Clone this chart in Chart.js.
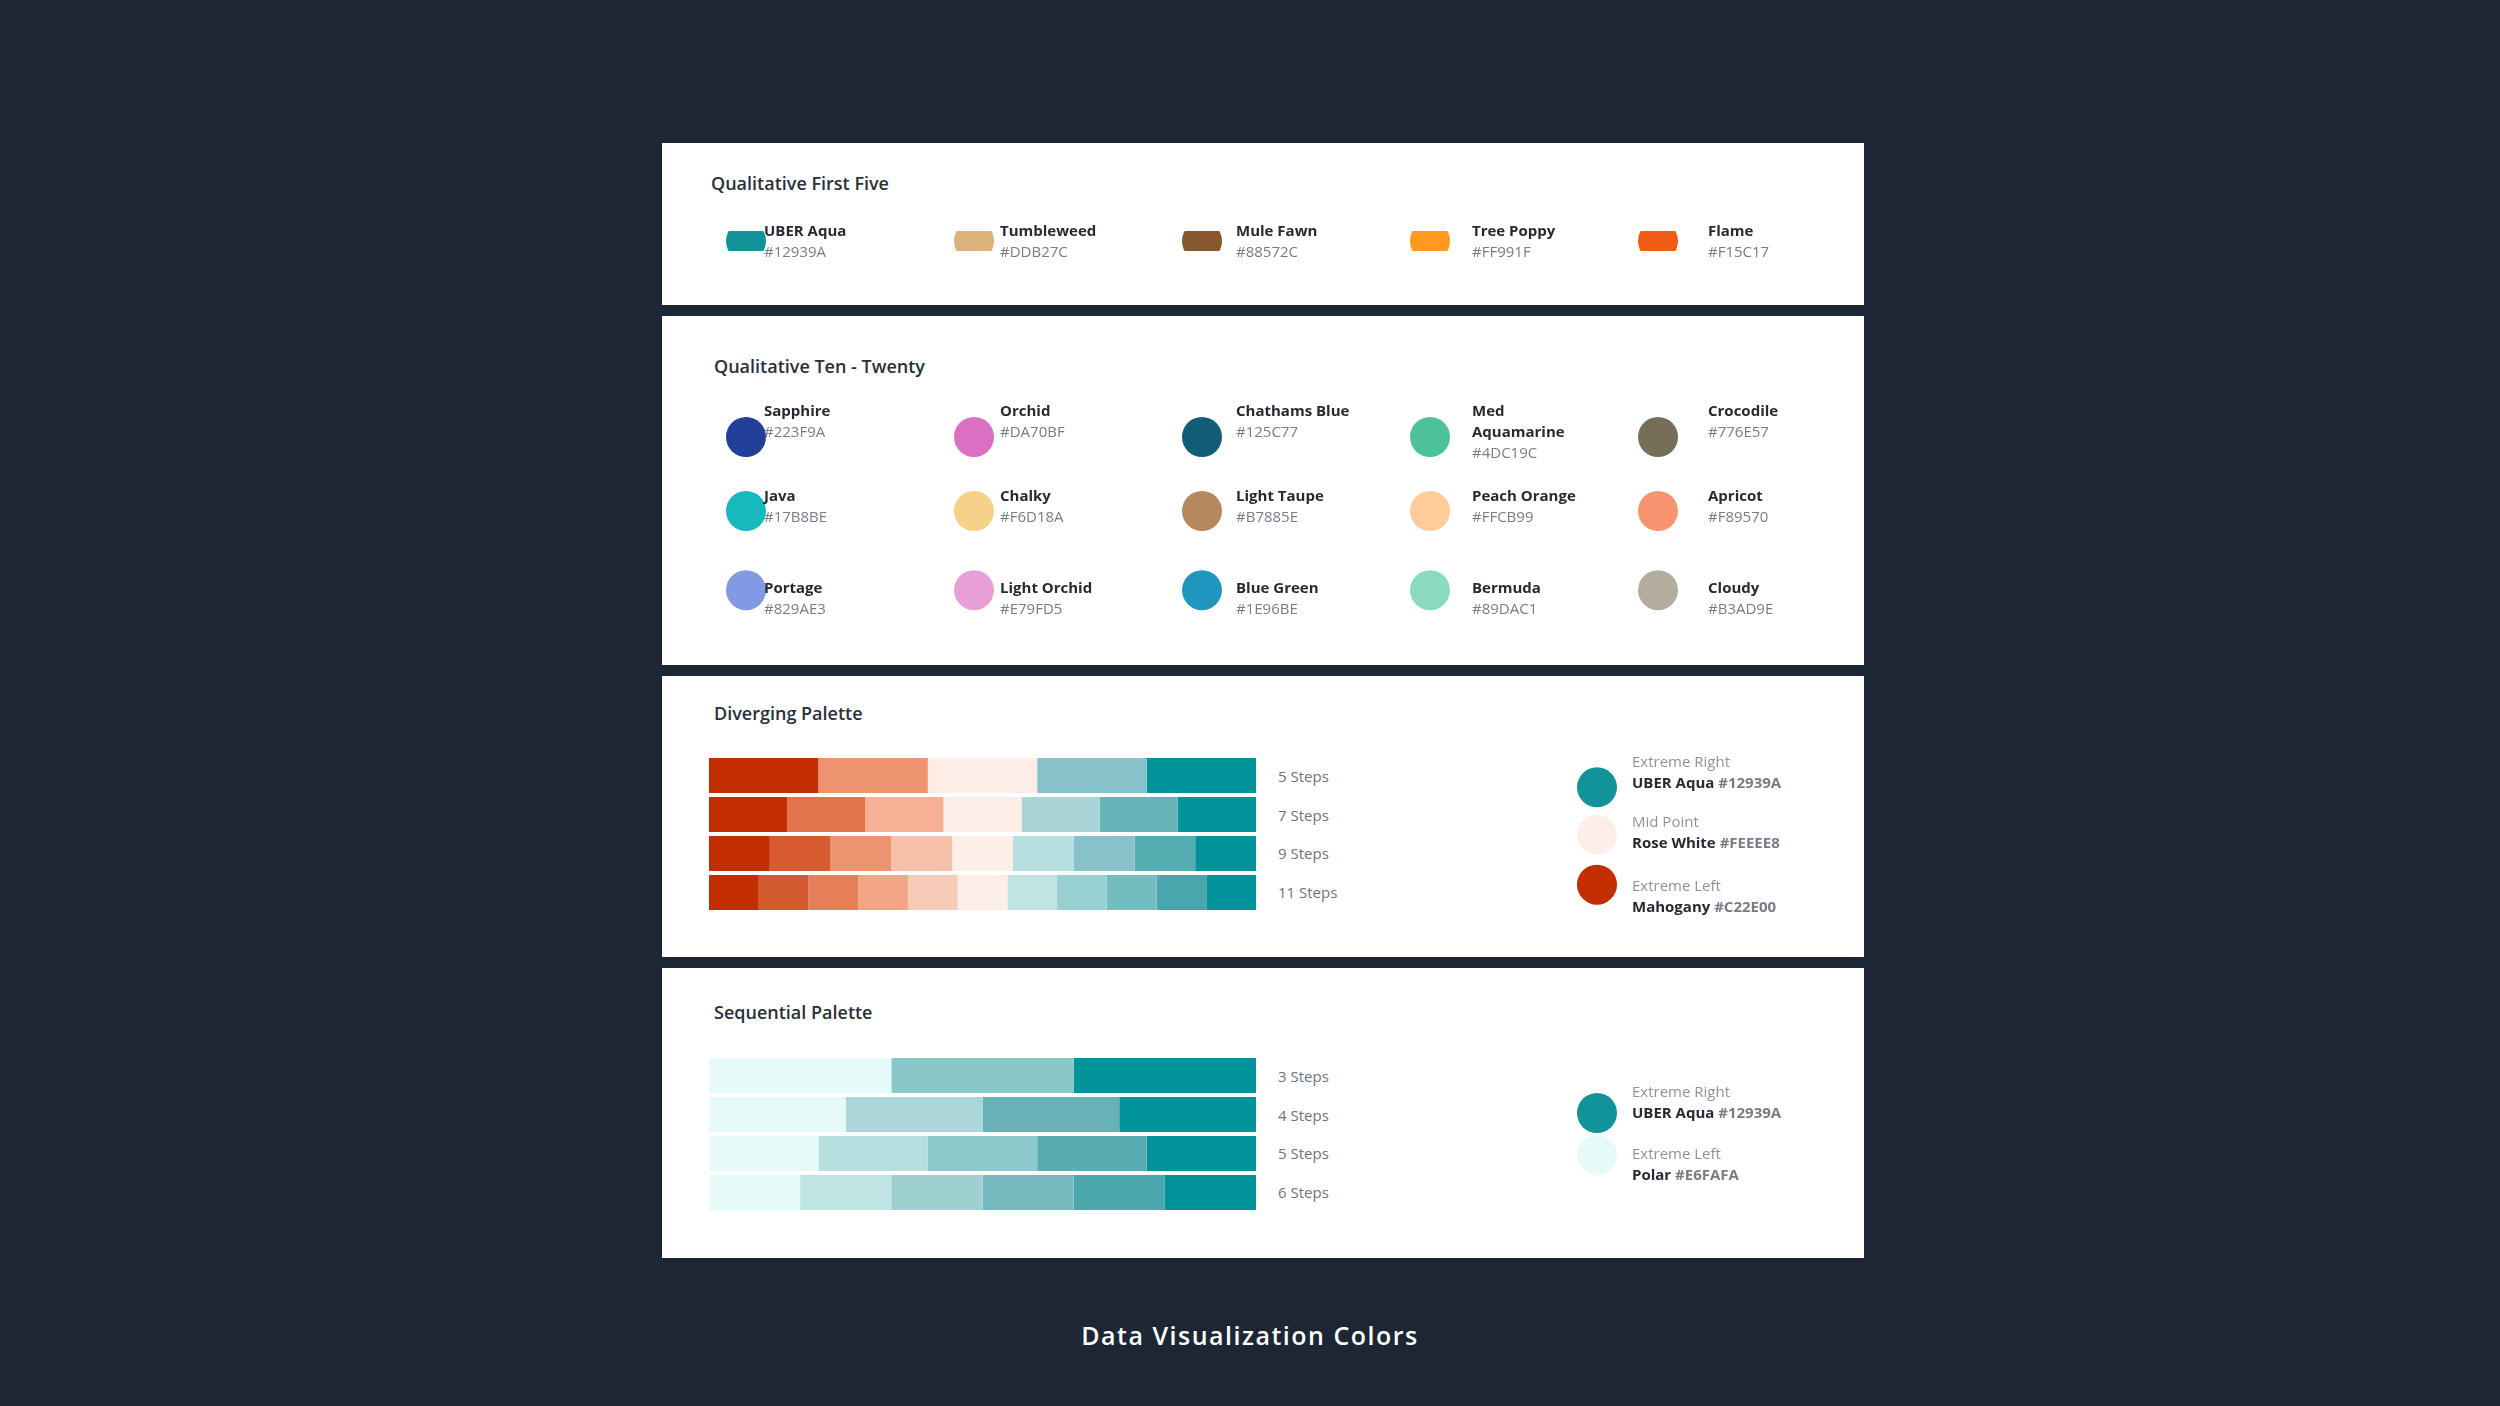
<!DOCTYPE html>
<html><head><meta charset="utf-8">
<script src="https://cdn.jsdelivr.net/npm/chart.js@4/dist/chart.umd.min.js"></script>
<style>
  body { margin:0; width:2500px; height:1406px; background:#1c2634; font-family:"Open Sans", Lato, sans-serif; position:relative; overflow:hidden; }
  .card { position:absolute; left:662px; width:1202px; background:#fff; }
  .abs { position:absolute; }
  canvas.abs { z-index:1; }
  .t { position:absolute; z-index:2; }
  .title { font-size:18px; font-weight:600; color:#2a2f3a; }
  .nm { font-size:15px; font-weight:700; color:#262a33; line-height:21px; }
  .hx { font-size:15px; color:#777c86; line-height:21px; }
  .sm { font-size:15px; color:#8e939b; line-height:21px; }
  .steps { font-size:15px; color:#6e737c; }
  #main { position:absolute; left:0; width:2500px; top:1318px; text-align:center; color:#fff; font-size:25px; font-weight:600; letter-spacing:1.5px; }
</style></head>
<body>
<div class="card" style="top:143px;height:162px"></div>
<div class="card" style="top:316px;height:349px"></div>
<div class="card" style="top:676px;height:281px"></div>
<div class="card" style="top:968px;height:290px"></div>
<div id="main">Data Visualization Colors</div>

<canvas id="c1" class="abs"></canvas>
<canvas id="c2" class="abs"></canvas>
<canvas id="c3" class="abs"></canvas>
<canvas id="c4" class="abs"></canvas>
<canvas id="lg3" class="abs"></canvas>
<canvas id="lg4" class="abs"></canvas>

<script>
// ---- data ------------------------------------------------------------------
const firstNames = ["UBER Aqua", "Tumbleweed", "Mule Fawn", "Tree Poppy", "Flame"];
const firstHex = ["#12939A", "#DDB27C", "#88572C", "#FF991F", "#F15C17"];

const tenNames = ["Sapphire", "Orchid", "Chathams Blue", "Med Aquamarine", "Crocodile",
  "Java", "Chalky", "Light Taupe", "Peach Orange", "Apricot",
  "Portage", "Light Orchid", "Blue Green", "Bermuda", "Cloudy"];
const tenHex = ["#223F9A", "#DA70BF", "#125C77", "#4DC19C", "#776E57",
  "#17B8BE", "#F6D18A", "#B7885E", "#FFCB99", "#F89570",
  "#829AE3", "#E79FD5", "#1E96BE", "#89DAC1", "#B3AD9E"];
const tenRowY = [0, 1, 2.07];

const divLabels = ["5 Steps", "7 Steps", "9 Steps", "11 Steps"];
const divColors = [
  ["#C22E00", "#EC9370", "#FDEDE6", "#88C2C8", "#00939A"],
  ["#C22E00", "#E2734A", "#F6B096", "#FDEEE8", "#A8D6D8", "#66B4B8", "#00939A"],
  ["#C22E00", "#D85A30", "#EC9370", "#F7C0AB", "#FDEEE8", "#B8E0E1", "#88C2C8", "#55ACB1", "#00939A"],
  ["#C22E00", "#D35A2E", "#E67E5A", "#F2A586", "#F8CAB8", "#FDEEE8", "#C0E3E4", "#98CFD1", "#74BCC0", "#4AA6AD", "#00939A"],
];
const seqLabels = ["3 Steps", "4 Steps", "5 Steps", "6 Steps"];
const seqColors = [
  ["#E6FAFA", "#8AC7C8", "#00939A"],
  ["#E6FAFA", "#AAD7D9", "#68B1B6", "#00939A"],
  ["#E6FAFA", "#B8DFE0", "#8CC9CA", "#57ADB2", "#00939A"],
  ["#E6FAFA", "#C0E3E4", "#9ECFD1", "#77BABE", "#4DA8AE", "#00939A"],
];
const divLegend = [["Extreme Right", "UBER Aqua", "#12939A"], ["Mid Point", "Rose White", "#FEEEE8"], ["Extreme Left", "Mahogany", "#C22E00"]];
const divLegendY = [0, 0.97, 2];
const seqLegend = [["Extreme Right", "UBER Aqua", "#12939A"], ["Extreme Left", "Polar", "#E6FAFA"]];

// ---- helpers ---------------------------------------------------------------
function place(id, l, t, w, h) {
  const c = document.getElementById(id);
  Object.assign(c.style, { left: l + "px", top: t + "px", width: w + "px", height: h + "px" });
  return c;
}
function text(cls, l, t, html) {
  const d = document.createElement("div");
  d.className = "t " + cls; d.style.left = l + "px"; d.style.top = t + "px"; d.innerHTML = html;
  document.body.appendChild(d);
}
const hidden = { display: false };
function dotChart(id, pts, colors, xr, yr) {
  new Chart(document.getElementById(id), {
    type: "scatter",
    data: { datasets: [{ data: pts, pointRadius: 20, pointHoverRadius: 20, borderWidth: 0,
      backgroundColor: colors, pointBorderColor: colors }] },
    options: { responsive: false, animation: false, events: [],
      layout: { padding: 0 },
      plugins: { legend: hidden, tooltip: { enabled: false } },
      scales: { x: { display: false, min: xr[0], max: xr[1] }, y: { display: false, reverse: true, min: yr[0], max: yr[1] } } },
  });
}
function stackChart(id, labels, colors) {
  const n = Math.max(...colors.map(r => r.length));
  const datasets = [];
  for (let i = 0; i < n; i++) {
    datasets.push({
      data: colors.map(r => i < r.length ? 1 / r.length : 0),
      backgroundColor: colors.map(r => r[i] || "#fff"),
      borderWidth: 0, barPercentage: 0.9, categoryPercentage: 1,
    });
  }
  new Chart(document.getElementById(id), {
    type: "bar",
    data: { labels, datasets },
    options: { indexAxis: "y", responsive: false, animation: false, events: [],
      layout: { padding: 0 },
      plugins: { legend: hidden, tooltip: { enabled: false } },
      scales: { x: { display: false, stacked: true, min: 0, max: 1 }, y: { display: false, stacked: true } } },
  });
}

// ---- card 1: qualitative first five ----------------------------------------
text("title", 711, 171, "Qualitative First Five");
place("c1", 612, 211, 1180, 60);
dotChart("c1", firstHex.map((_, i) => ({ x: i, y: 0 })), firstHex, [-0.5, 4.5], [-0.5, 0.5]);
firstNames.forEach((n, i) => text("", 764 + i * 236, 220, `<div class="nm">${n}</div><div class="hx">${firstHex[i]}</div>`));

// ---- card 2: qualitative ten - twenty --------------------------------------
text("title", 714, 354, "Qualitative Ten - Twenty");
place("c2", 612, 380, 1180, 262);
dotChart("c2", tenHex.map((_, i) => ({ x: i % 5, y: tenRowY[Math.floor(i / 5)] })), tenHex, [-0.5, 4.5], [-0.5, 2.5]);
const rowTop = [400, 485, 577];
tenNames.forEach((n, i) => {
  const nm = n === "Med Aquamarine" ? "Med<br>Aquamarine" : n;
  text("", 764 + (i % 5) * 236, rowTop[Math.floor(i / 5)], `<div class="nm" style="width:120px">${nm}</div><div class="hx">${tenHex[i]}</div>`);
});

// ---- card 3: diverging -----------------------------------------------------
text("title", 714, 701, "Diverging Palette");
place("c3", 709, 756, 547, 156);
stackChart("c3", divLabels, divColors);
divLabels.forEach((l, i) => text("steps", 1278, 766 + i * 38.5, l));
place("lg3", 1557, 743, 80, 186);
dotChart("lg3", divLegend.map((_, i) => ({ x: 0, y: divLegendY[i] })), divLegend.map(d => d[2]), [-0.5, 0.5], [-0.5, 2.5]);
divLegend.forEach((d, i) => text("", 1632, 751 + divLegendY[i] * 62,
  `<div class="sm">${d[0]}</div><div class="nm">${d[1]} <span class="hx">${d[2]}</span></div>`));

// ---- card 4: sequential ----------------------------------------------------
text("title", 714, 1000, "Sequential Palette");
place("c4", 709, 1056, 547, 156);
stackChart("c4", seqLabels, seqColors);
seqLabels.forEach((l, i) => text("steps", 1278, 1066 + i * 38.5, l));
place("lg4", 1557, 1072, 80, 124);
dotChart("lg4", seqLegend.map((_, i) => ({ x: 0, y: i })), seqLegend.map(d => d[2]), [-0.5, 0.5], [-0.5, 1.5]);
seqLegend.forEach((d, i) => text("", 1632, 1081 + i * 62,
  `<div class="sm">${d[0]}</div><div class="nm">${d[1]} <span class="hx">${d[2]}</span></div>`));
</script>
</body></html>
